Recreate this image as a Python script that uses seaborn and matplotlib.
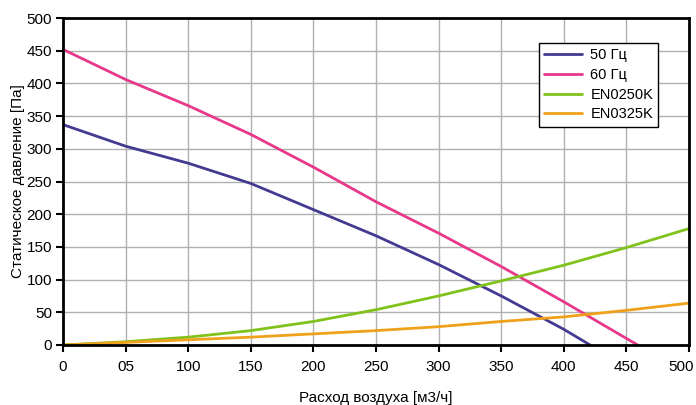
import numpy as np
import pandas as pd
import matplotlib
matplotlib.use("Agg")
import matplotlib.pyplot as plt
import matplotlib.transforms as mtransforms
import seaborn as sns

flow = [0, 50, 100, 150, 200, 250, 300, 350, 400]
p50 = [337, 304, 278, 247, 207, 167, 123, 75, 24]
p50_end = (421, 0)
p60 = [452, 406, 366, 322, 272, 219, 171, 120, 66]
p60_end = (459, 0)
flow_sys = [0, 50, 100, 150, 200, 250, 300, 350, 400, 450, 500]
en0250 = [0, 5, 12, 22, 36, 54, 75, 98, 122, 149, 178]
en0325 = [0, 4, 8, 12, 17, 22, 28, 36, 43, 53, 64]

series_names = ["50 Гц", "60 Гц", "EN0250K", "EN0325K"]
colors = ["#433a91", "#e8388a", "#80c21b", "#f0a11c"]
xticks = [0, 50, 100, 150, 200, 250, 300, 350, 400, 450, 500]
xticklabels = ["0", "05", "100", "150", "200", "250", "300", "350", "400", "450", "500"]
yticks = [0, 50, 100, 150, 200, 250, 300, 350, 400, 450, 500]

rows = []
for x, y in zip(flow + [p50_end[0]], p50 + [p50_end[1]]):
    rows.append((series_names[0], x, y))
for x, y in zip(flow + [p60_end[0]], p60 + [p60_end[1]]):
    rows.append((series_names[1], x, y))
for x, y in zip(flow_sys, en0250):
    rows.append((series_names[2], x, y))
for x, y in zip(flow_sys, en0325):
    rows.append((series_names[3], x, y))
df = pd.DataFrame(rows, columns=["series", "flow", "pressure"])

sns.set_theme(style="white")
plt.rcParams["font.family"] = ["Liberation Sans", "DejaVu Sans"]

fig = plt.figure(figsize=(6.96, 4.05), dpi=100)
ax = fig.add_axes([63/696, 60/405, 626/696, 327/405])

sns.lineplot(data=df, x="flow", y="pressure", hue="series", hue_order=series_names,
             palette=colors, linewidth=2, ax=ax, sort=False, estimator=None)

ax.set_xlim(0, 500)
ax.set_ylim(0, 500)
ax.set_xticks(xticks)
ax.set_xticklabels(xticklabels)
ax.set_yticks(yticks)
ax.grid(True, color="#b0b0b0", linewidth=1)
ax.set_axisbelow(True)
for s in ax.spines.values():
    s.set_color("black")
    s.set_linewidth(2)
ax.tick_params(axis="both", which="both", direction="out", length=5, width=1.5,
               color="black", labelsize=11, labelcolor="black", left=True, bottom=True, pad=3)
ax.tick_params(axis="x", pad=6)
ax.set_xlabel("Расход воздуха [м3/ч]", fontsize=11, color="black", labelpad=12)
ax.set_ylabel("Статическое давление [Па]", fontsize=11, color="black", labelpad=1)

# the last x tick label sits shifted left so it fits inside the figure
last = ax.get_xticklabels()[-1]
last.set_transform(last.get_transform() +
                   mtransforms.ScaledTranslation(-0.08, 0, fig.dpi_scale_trans))

leg = ax.legend(loc="upper right", bbox_to_anchor=(0.951, 0.924), borderaxespad=0,
                frameon=True, fancybox=False,
                fontsize=10.5, handlelength=2.6, borderpad=0.35, labelspacing=0.4,
                handletextpad=0.6, title=None)
leg.get_frame().set_edgecolor("black")
leg.get_frame().set_linewidth(1)
leg.get_frame().set_alpha(1)
for t in leg.get_texts():
    t.set_color("black")

fig.savefig("out.png", dpi=100)
